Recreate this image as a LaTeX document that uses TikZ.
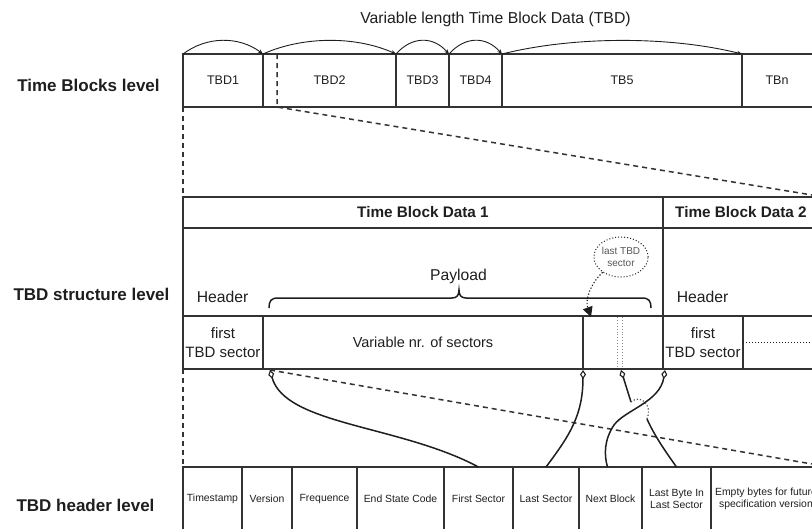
\documentclass[tikz,border=0pt]{standalone}
\usepackage{fontspec}
\setmainfont{Liberation Sans}
\usetikzlibrary{arrows.meta,shapes.geometric}
\definecolor{ink}{HTML}{1E1E1E}
\definecolor{edge}{HTML}{333333}
\definecolor{soft}{HTML}{555555}
\newcommand\setfs[2]{\fontsize{#1}{#2}\selectfont}
\tikzset{
  dia/.tip={Diamond[fill=white,length=9pt,width=6pt,line width=1.1pt]},
  cell/.style={draw=edge, line width=1.5pt, inner sep=0pt, outer sep=0pt,
    anchor=north west, text=ink, align=center},
  tbcell/.style={cell, minimum height=53pt, font=\setfs{12.5}{15}},
  ttlcell/.style={cell, minimum height=31pt, font=\bfseries\setfs{15.3}{18}},
  rowcell/.style={cell, minimum height=53pt, font=\setfs{15}{19}},
  hdcell/.style={cell, minimum height=64pt, font=\setfs{10.4}{12.5}},
  lbl/.style={inner sep=0pt, text=ink, align=center},
  lvl/.style={lbl, font=\bfseries\setfs{17}{20}},
  hop/.style={draw=ink, line width=0.9pt, -{Stealth[length=5pt,width=4pt]}},
  cut/.style={draw=edge, line width=1.5pt, dash pattern=on 5pt off 4pt},
  link/.style={draw=ink, line width=1.5pt},
  hopover/.style={draw=soft, line width=1.2pt, dotted},
  edgeline/.style={draw=edge, line width=1.5pt}
}
\begin{document}
\begin{tikzpicture}[x=1pt,y=-1pt]
\useasboundingbox (0,0) rectangle (812,528);
\clip (0,0) rectangle (812,528);

% level captions
\node[lvl] (lvtb) at (88.5,85) {Time Blocks level};
\node[lvl] (lvst) at (91.5,294) {TBD structure level};
\node[lvl] (lvhd) at (85.5,505) {TBD header level};

% time blocks row
\node[lbl, font=\setfs{15.8}{19}] (title) at (495.5,19) {Variable length Time Block Data (TBD)};
\node[tbcell, minimum width=80pt]  (tbd1) at (183,54) {TBD1};
\node[tbcell, minimum width=133pt] (tbd2) at (263,54) {TBD2};
\node[tbcell, minimum width=53pt]  (tbd3) at (396,54) {TBD3};
\node[tbcell, minimum width=53pt]  (tbd4) at (449,54) {TBD4};
\node[tbcell, minimum width=240pt] (tb5)  at (502,54) {TB5};
\node[lbl, font=\setfs{12.5}{15}] (tbn) at (777,80.5) {TBn};
\draw[edgeline] (tb5.north east) -- ++(90,0);
\draw[edgeline] (tb5.south east) -- ++(90,0);

\draw[hop] (tbd1.north west) .. controls +(24,-18) and +(-24,-18) .. (tbd2.north west);
\draw[hop] (tbd2.north west) .. controls +(40,-18) and +(-40,-18) .. (tbd3.north west);
\draw[hop] (tbd3.north west) .. controls +(16,-18) and +(-16,-18) .. (tbd4.north west);
\draw[hop] (tbd4.north west) .. controls +(16,-18) and +(-16,-18) .. (tb5.north west);
\draw[hop] (tb5.north west) .. controls +(72,-18) and +(-72,-18) .. (tb5.north east);

% structure of one time block data
\node[ttlcell, minimum width=480pt] (ttl1) at (183,197) {Time Block Data 1};
\node[cell, minimum width=480pt, minimum height=88pt] (body1) at (183,228) {};
\node[rowcell, minimum width=80pt]  (first1) at (183,316) {first\\TBD sector};
\node[rowcell, minimum width=320pt, font=\setfs{14.5}{18}] (var1) at (263,316) {Variable nr. of sectors};
\node[rowcell, minimum width=80pt]  (last1)  at (583,316) {};

\node[ttlcell, minimum width=156pt] (ttl2) at (663,197) {Time Block Data 2};
\node[cell, minimum width=170pt, minimum height=88pt] (body2) at (663,228) {};
\node[rowcell, minimum width=80pt] (first2) at (663,316) {first\\TBD sector};
\node[rowcell, minimum width=90pt] (rest2)  at (743,316) {};
\draw[draw=ink, line width=1pt, dotted] (rest2.west) -- (rest2.east);

\draw[draw=soft!70, line width=0.9pt, dotted] (617.5,317) -- (617.5,368);
\draw[draw=soft!70, line width=0.9pt, dotted] (622,317) -- (622,368);

\node[lbl, font=\setfs{15.7}{19}] (hdr1) at (222.5,297) {Header};
\node[lbl, font=\setfs{15.7}{19}] (pay)  at (458.5,276) {Payload};
\node[lbl, font=\setfs{15.7}{19}] (hdr2) at (702.5,297) {Header};

% payload brace
\draw[draw=ink, line width=1.5pt]
  (269,308) .. controls (269,301) and (271,298) .. (278,298) -- (452,298)
  .. controls (457,298) and (459,295) .. (459,290)
  .. controls (459,295) and (461,298) .. (466,298) -- (642,298)
  .. controls (649,298) and (651,301) .. (651,308);

% last sector callout
\node[ellipse, draw=ink, dotted, line width=1pt, minimum width=54pt, minimum height=40pt,
  inner sep=0pt, text=soft, font=\setfs{10}{11.5}, align=center] (lastlbl) at (621,257) {last TBD\\sector};
\coordinate (tipc) at (591,317);
\draw[draw=ink, line width=1.2pt, dotted, -{Triangle[length=10pt,width=10pt]}]
  (lastlbl.220) .. controls (590,284) and (585,300) .. (tipc);

% header fields
\node[hdcell, minimum width=59pt]  (ts)       at (183,467) {Timestamp};
\node[hdcell, minimum width=50pt]  (ver)      at (242,467) {Version};
\node[hdcell, minimum width=65pt]  (freq)     at (292,467) {Frequence};
\node[hdcell, minimum width=87pt]  (esc)      at (357,467) {End State Code};
\node[hdcell, minimum width=69pt]  (firstsec) at (444,467) {First Sector};
\node[hdcell, minimum width=66pt]  (lastsec)  at (513,467) {Last Sector};
\node[hdcell, minimum width=63pt]  (nextblk)  at (579,467) {Next Block};
\node[hdcell, minimum width=69pt]  (lastbyte) at (642,467) {Last Byte In\\Last Sector};
\node[hdcell, minimum width=110pt] (empty)    at (711,467) {Empty bytes for future\\specification version};

% zoom guides between levels
\coordinate (cutA) at (277,54);
\coordinate (cutB) at (277,107);
\coordinate (cutC) at (812,195);
\coordinate (d1) at (270,370);
\coordinate (cutD) at (812,464);
\draw[cut] (tbd1.south west) -- (ttl1.north west);
\draw[cut] (first1.south west) -- (ts.north west);
\draw[cut] (cutA) -- (cutB) -- (cutC);
\draw[cut] (d1) -- (cutD);

% pointers from the structure to the header fields
\coordinate (d2) at (583,370);
\coordinate (d3) at (621,370);
\coordinate (d4) at (665,370);
\coordinate (j1) at (631,402);
\coordinate (j2) at (647,419);
\coordinate (bend) at (614,425);
\draw[link, dia-] (d1) .. controls (285,425) and (400,425) .. (firstsec.north);
\draw[link, dia-] (d2) .. controls (583,415) and (570,435) .. (lastsec.north);
\draw[link, dia-] (d4) .. controls (660,402) and (625,410) .. (bend)
  .. controls (604,440) and (604,455) .. ([xshift=-3pt]nextblk.north);
\draw[link, dia-] (d3) -- (j1);
\draw[hopover] (j1) .. controls (640,394) and (653,404) .. (j2);
\draw[link] (j2) .. controls (655,437) and (668,455) .. (lastbyte.north);
\end{tikzpicture}
\end{document}
